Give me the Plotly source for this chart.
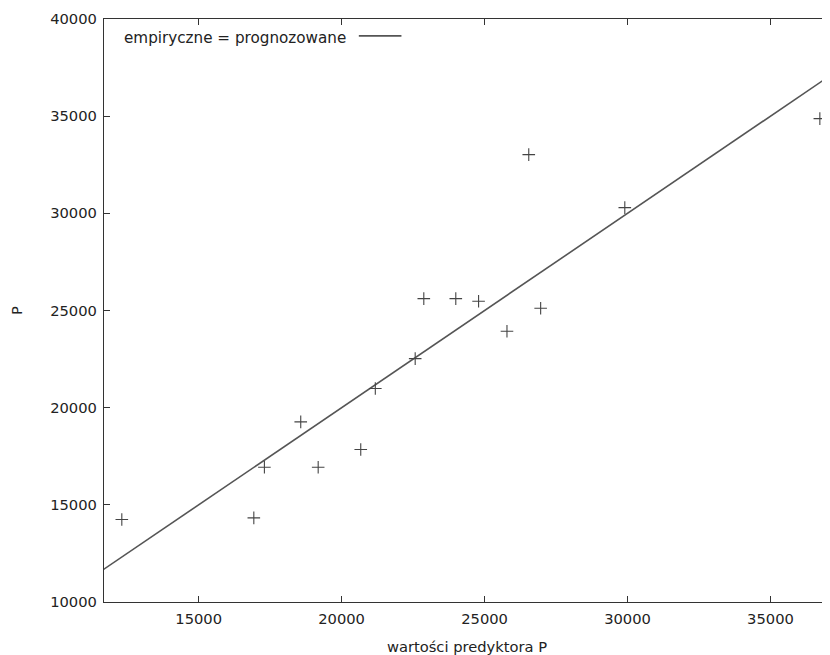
import plotly.graph_objects as go

# empirical data: predictor values (x) vs observed P (y)
pred_x = [12313, 16930, 17300, 18571, 19181, 20670, 21179, 22574, 22875,
          23994, 24791, 25784, 26962, 26546, 29905, 36727]
emp_y = [14244, 14331, 16934, 19270, 16934, 17845, 20983, 22526, 25612,
         25612, 25473, 23930, 25113, 33019, 30293, 34871]

# reference line: empirical = predicted
line_x = [0, 50000]
line_y = [0, 50000]

x_ticks = [15000, 20000, 25000, 30000, 35000]
y_ticks = [10000, 15000, 20000, 25000, 30000, 35000, 40000]

FONT = "DejaVu Sans"
TXT = "#222222"
AX = "#333333"

fig = go.Figure()
fig.add_trace(go.Scatter(
    x=line_x, y=line_y, mode="lines", name="empiryczne = prognozowane",
    line=dict(color="#555555", width=1.6), showlegend=False, hoverinfo="skip"))
fig.add_trace(go.Scatter(
    x=pred_x, y=emp_y, mode="markers", name="dane",
    marker=dict(symbol="cross-thin", size=9,
                line=dict(color="#444444", width=1.1)),
    showlegend=False))

# page body has an 8px margin, so the figure sits at (8, 8)
fig.update_layout(
    width=822, height=647,
    margin=dict(l=90, r=0, t=11, b=53),
    paper_bgcolor="white", plot_bgcolor="white",
    font=dict(family=FONT, size=14.7, color=TXT),
    showlegend=False,
)
fig.update_xaxes(
    range=[11690, 37082], tickvals=x_ticks, ticktext=[str(v) for v in x_ticks],
    ticks="inside", ticklen=6, tickwidth=1.2, tickcolor=AX, ticklabelstandoff=3,
    showline=True, linecolor=AX, linewidth=1.3, mirror="ticks",
    showgrid=False, zeroline=False,
    title=dict(text="wartości predyktora P", standoff=17,
               font=dict(family=FONT, size=14.7, color=TXT)),
)
fig.update_yaxes(
    range=[10000, 40000], tickvals=y_ticks, ticktext=[str(v) for v in y_ticks],
    ticks="inside", ticklen=6, tickwidth=1.2, tickcolor=AX, ticklabelstandoff=3,
    showline=True, linecolor=AX, linewidth=1.3, mirror=False,
    showgrid=False, zeroline=False,
    title=dict(text="P", standoff=32,
               font=dict(family=FONT, size=14.7, color=TXT)),
)

# gnuplot-style key: text followed by line sample
fig.add_annotation(
    xref="paper", yref="paper", x=0.0246, y=0.967,
    xanchor="left", yanchor="middle", showarrow=False,
    text="empiryczne = prognozowane",
    font=dict(family=FONT, size=15.2, color=TXT))
fig.add_shape(type="line", xref="paper", yref="paper",
              x0=0.351, x1=0.4097, y0=0.971, y1=0.971,
              line=dict(color="#555555", width=1.6))

fig.write_html("out.html")
